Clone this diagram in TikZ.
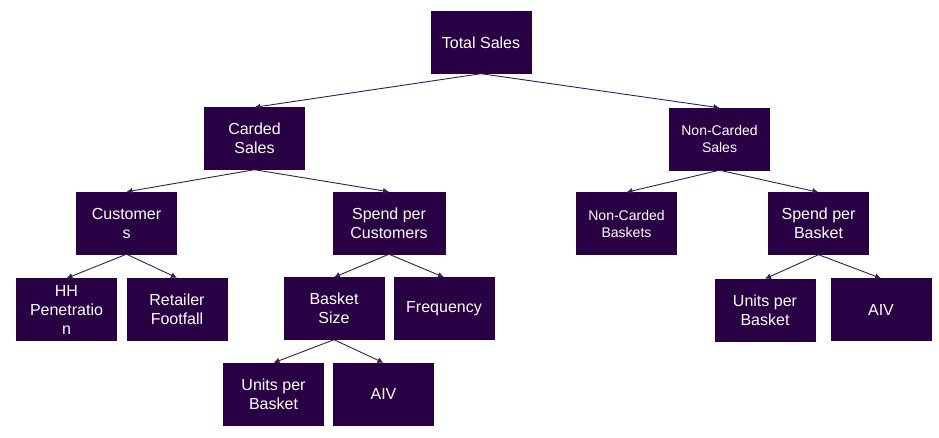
\documentclass[tikz,border=0pt]{standalone}
\usepackage{fontspec}
\setmainfont{Liberation Sans}
\usetikzlibrary{arrows.meta}
\definecolor{boxfill}{HTML}{290043}
\definecolor{linec}{HTML}{3A1A5A}
\begin{document}
\begin{tikzpicture}[x=1pt,y=-1pt,
  box/.style={draw=boxfill,fill=boxfill,text=white,minimum width=100pt,minimum height=62pt,inner sep=0pt,align=center,font=\fontsize{16}{19}\selectfont},
  smallbox/.style={box,font=\fontsize{14}{17}\selectfont},
  conn/.style={draw=linec,line width=0.9pt,-{Latex[length=6pt,width=6pt]}}]
\useasboundingbox[fill=white] (0,0) rectangle (939,438);
\node[box] (tot) at (481,42.5) {Total Sales};
\node[box] (card) at (254.5,138.5) {Carded\\Sales};
\node[smallbox] (ncard) at (719.5,139) {Non-Carded\\Sales};
\node[box] (cust) at (126.5,223) {Customer\\s};
\node[box,minimum width=112pt] (spc) at (389,223) {Spend per\\Customers};
\node[smallbox] (ncb) at (626.5,223.5) {Non-Carded\\Baskets};
\node[box] (spb) at (818.5,223.5) {Spend per\\Basket};
\node[box] (hh) at (66.5,309.5) {HH\\Penetratio\\n};
\node[box] (ret) at (177,309) {Retailer\\Footfall};
\node[box] (bs) at (334,308.5) {Basket\\Size};
\node[box] (freq) at (444,308.5) {Frequency};
\node[box] (upb1) at (273.5,394) {Units per\\Basket};
\node[box] (aiv1) at (383.5,394) {AIV};
\node[box] (upb2) at (765,310) {Units per\\Basket};
\node[box] (aiv2) at (881,309.5) {AIV};
\draw[conn] (tot.south) -- (card.north);
\draw[conn] (tot.south) -- (ncard.north);
\draw[conn] (card.south) -- (cust.north);
\draw[conn] (card.south) -- (spc.north);
\draw[conn] (ncard.south) -- (ncb.north);
\draw[conn] (ncard.south) -- (spb.north);
\draw[conn] (cust.south) -- (hh.north);
\draw[conn] (cust.south) -- (ret.north);
\draw[conn] (spc.south) -- (bs.north);
\draw[conn] (spc.south) -- (freq.north);
\draw[conn] (bs.south) -- (upb1.north);
\draw[conn] (bs.south) -- (aiv1.north);
\draw[conn] (spb.south) -- (upb2.north);
\draw[conn] (spb.south) -- (aiv2.north);
\end{tikzpicture}
\end{document}
